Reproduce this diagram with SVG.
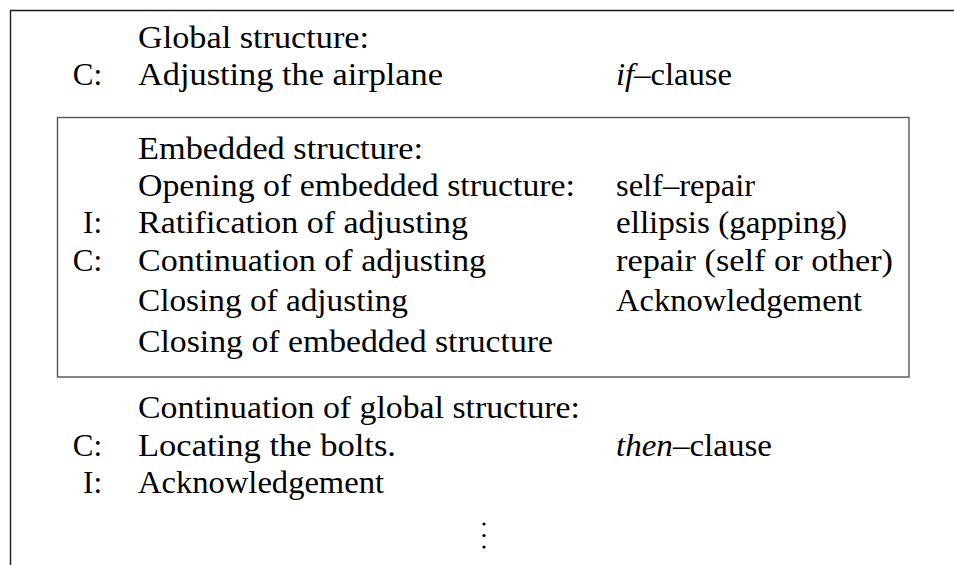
<svg xmlns="http://www.w3.org/2000/svg" width="954" height="565" viewBox="0 0 954 565">
<style>
text{font-family:"Liberation Serif","Times New Roman",serif;font-size:31px;fill:#000}
.lab{text-anchor:end}
.it{font-style:italic}
.frame{fill:none;stroke:#1a1a1a;stroke-width:1.4}
.box{fill:none;stroke:#555;stroke-width:1.4}
</style>
<rect width="954" height="565" fill="#fff"/>
<g id="frame">
<path class="frame" d="M954 10.5H10.5V565"/>
</g>
<g id="global">
<text x="138" y="48" textLength="231" lengthAdjust="spacingAndGlyphs">Global structure:</text>
<text class="lab" x="102" y="85">C:</text>
<text x="138" y="85" textLength="305" lengthAdjust="spacingAndGlyphs">Adjusting the airplane</text>
<text x="616" y="85" textLength="116" lengthAdjust="spacingAndGlyphs"><tspan class="it">if</tspan>–clause</text>
</g>
<g id="embedded">
<rect class="box" x="57.5" y="117.5" width="851.5" height="259.5"/>
<text x="138" y="159" textLength="285" lengthAdjust="spacingAndGlyphs">Embedded structure:</text>
<text x="138" y="196" textLength="437" lengthAdjust="spacingAndGlyphs">Opening of embedded structure:</text>
<text x="616" y="196" textLength="139" lengthAdjust="spacingAndGlyphs">self–repair</text>
<text class="lab" x="102" y="233">I:</text>
<text x="138" y="233" textLength="330" lengthAdjust="spacingAndGlyphs">Ratification of adjusting</text>
<text x="616" y="233" textLength="231" lengthAdjust="spacingAndGlyphs">ellipsis (gapping)</text>
<text class="lab" x="102" y="271">C:</text>
<text x="138" y="271" textLength="348" lengthAdjust="spacingAndGlyphs">Continuation of adjusting</text>
<text x="616" y="271" textLength="277" lengthAdjust="spacingAndGlyphs">repair (self or other)</text>
<text x="138" y="311" textLength="270" lengthAdjust="spacingAndGlyphs">Closing of adjusting</text>
<text x="616" y="311" textLength="246" lengthAdjust="spacingAndGlyphs">Acknowledgement</text>
<text x="138" y="352" textLength="415" lengthAdjust="spacingAndGlyphs">Closing of embedded structure</text>
</g>
<g id="continuation">
<text x="138" y="418" textLength="442" lengthAdjust="spacingAndGlyphs">Continuation of global structure:</text>
<text class="lab" x="102" y="456">C:</text>
<text x="138" y="456" textLength="258" lengthAdjust="spacingAndGlyphs">Locating the bolts.</text>
<text x="616" y="456" textLength="156" lengthAdjust="spacingAndGlyphs"><tspan class="it">then</tspan>–clause</text>
<text class="lab" x="102" y="493">I:</text>
<text x="138" y="493" textLength="246" lengthAdjust="spacingAndGlyphs">Acknowledgement</text>
</g>
<g id="vdots" fill="#000">
<circle cx="484" cy="524" r="1.6"/>
<circle cx="484" cy="535.5" r="1.6"/>
<circle cx="484" cy="547" r="1.6"/>
</g>
</svg>
